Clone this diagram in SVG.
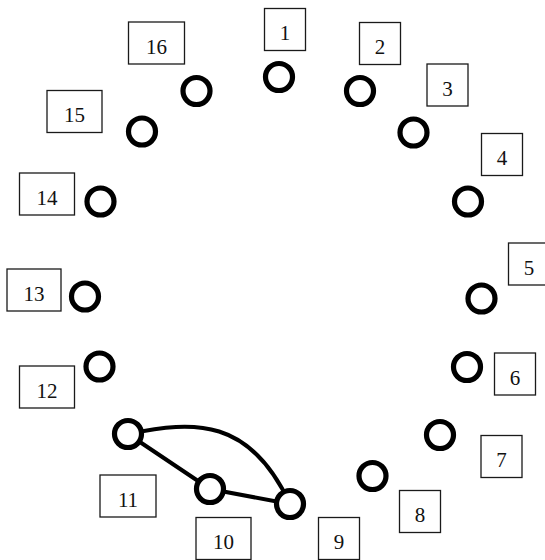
<svg xmlns="http://www.w3.org/2000/svg" width="545" height="560" viewBox="0 0 545 560">
  <style>
    .lbl rect { fill: #ffffff; stroke: #1a1a1a; stroke-width: 1.3; }
    .lbl text { font-family: "Liberation Serif", "Times New Roman", serif; font-size: 21px; fill: #111111; text-anchor: middle; }
    .pt { fill: #ffffff; stroke: #000000; stroke-width: 5.2; }
    .edge { fill: none; stroke: #000000; stroke-width: 4; stroke-linecap: round; }
  </style>
  <rect width="545" height="560" fill="#ffffff"/>

  <!-- connectors between points 11, 10 and 9 -->
  <g id="connectors">
    <line class="edge" x1="128" y1="434" x2="210" y2="489"/>
    <line class="edge" x1="210" y1="489" x2="290" y2="504"/>
    <path class="edge" d="M128,434 C195,420 250,418 290,504"/>
  </g>

  <!-- points on the ring, each with its numbered label -->
  <g id="node-1"><circle class="pt" cx="279" cy="77" r="13.5"/><g class="lbl"><rect x="264.5" y="8.5" width="41" height="42"/><text x="285" y="40">1</text></g></g>
  <g id="node-2"><circle class="pt" cx="360" cy="91" r="13.5"/><g class="lbl"><rect x="359.5" y="22.5" width="41" height="42"/><text x="380" y="54">2</text></g></g>
  <g id="node-3"><circle class="pt" cx="413.5" cy="132.5" r="13.5"/><g class="lbl"><rect x="427" y="64" width="41" height="42"/><text x="447.5" y="95.5">3</text></g></g>
  <g id="node-4"><circle class="pt" cx="468" cy="201.5" r="13.5"/><g class="lbl"><rect x="481.5" y="133.5" width="41" height="42"/><text x="502" y="165">4</text></g></g>
  <g id="node-5"><circle class="pt" cx="481.5" cy="298.5" r="13.5"/><g class="lbl"><rect x="508.5" y="243" width="41" height="42"/><text x="529" y="274.5">5</text></g></g>
  <g id="node-6"><circle class="pt" cx="467" cy="367" r="13.5"/><g class="lbl"><rect x="494.5" y="353" width="41" height="42"/><text x="515" y="384.5">6</text></g></g>
  <g id="node-7"><circle class="pt" cx="440" cy="435" r="13.5"/><g class="lbl"><rect x="481" y="435.5" width="41" height="42"/><text x="501.5" y="467">7</text></g></g>
  <g id="node-8"><circle class="pt" cx="372.5" cy="476" r="13.5"/><g class="lbl"><rect x="399.5" y="490.5" width="41" height="42"/><text x="420" y="522">8</text></g></g>
  <g id="node-9"><circle class="pt" cx="290" cy="504" r="13.5"/><g class="lbl"><rect x="318.5" y="517.5" width="41" height="42"/><text x="339" y="549">9</text></g></g>
  <g id="node-10"><circle class="pt" cx="210" cy="489" r="13.5"/><g class="lbl"><rect x="196" y="517.5" width="55" height="42"/><text x="223.5" y="549">10</text></g></g>
  <g id="node-11"><circle class="pt" cx="128" cy="434" r="13.5"/><g class="lbl"><rect x="100" y="475" width="56" height="42"/><text x="128" y="506.5">11</text></g></g>
  <g id="node-12"><circle class="pt" cx="99.5" cy="366.5" r="13.5"/><g class="lbl"><rect x="19.5" y="366" width="55" height="42"/><text x="47" y="397.5">12</text></g></g>
  <g id="node-13"><circle class="pt" cx="85" cy="296.5" r="13.5"/><g class="lbl"><rect x="7" y="269" width="54" height="42"/><text x="34" y="300.5">13</text></g></g>
  <g id="node-14"><circle class="pt" cx="100.5" cy="201.5" r="13.5"/><g class="lbl"><rect x="19.5" y="173" width="55" height="42"/><text x="47" y="204.5">14</text></g></g>
  <g id="node-15"><circle class="pt" cx="142" cy="131.5" r="13.5"/><g class="lbl"><rect x="47" y="90.5" width="55" height="42"/><text x="74.5" y="122">15</text></g></g>
  <g id="node-16"><circle class="pt" cx="196.5" cy="91" r="13.5"/><g class="lbl"><rect x="128.5" y="22" width="56" height="42"/><text x="156.5" y="53.5">16</text></g></g>
</svg>
